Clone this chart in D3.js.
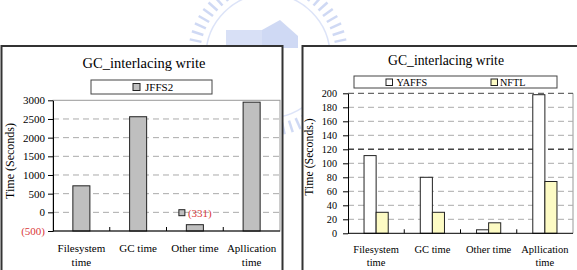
<!DOCTYPE html>
<html>
<head>
<meta charset="utf-8">
<script src="https://cdn.jsdelivr.net/npm/d3@7"></script>
<style>
  body { margin: 0; background: #fff; }
</style>
</head>
<body>
<svg id="container" width="577" height="270"></svg>
<script>
// categories shared by both charts
const categories = ["Filesystem time", "GC time", "Other time", "Apllication time"];

// left chart: JFFS2
const jffs2Values = [710, 2560, -331, 2950];
const leftTicks = [-500, 0, 500, 1000, 1500, 2000, 2500, 3000];

// right chart: YAFFS vs NFTL
const yaffsValues = [111, 80, 5, 198];
const nftlValues = [30, 30, 15, 74];
const rightTicks = [0, 20, 40, 60, 80, 100, 120, 140, 160, 180, 200];

const FONT = "'Liberation Serif', 'Times New Roman', 'DejaVu Serif', serif";
const svg = d3.select("#container");

// faint watermark behind the charts
const wm = svg.append("g").attr("opacity", 0.4);
const ringTicks = d3.range(0, 360, 6);
wm.selectAll("line.wm")
  .data(ringTicks)
  .enter()
  .append("line")
  .attr("x1", (a) => 268 + 68 * Math.cos((a * Math.PI) / 180))
  .attr("y1", (a) => 56 + 68 * Math.sin((a * Math.PI) / 180))
  .attr("x2", (a) => 268 + 80 * Math.cos((a * Math.PI) / 180))
  .attr("y2", (a) => 56 + 80 * Math.sin((a * Math.PI) / 180))
  .attr("stroke", "#8aa2e4")
  .attr("stroke-width", 2.5);
wm.append("circle").attr("cx", 268).attr("cy", 56).attr("r", 62)
  .attr("fill", "none").attr("stroke", "#a9bbee").attr("stroke-width", 1.5);
wm.append("rect").attr("x", 226).attr("y", 30).attr("width", 56).attr("height", 18).attr("fill", "#9fb3ea");
wm.append("path").attr("d", "M262,30 L280,20 L298,36 L298,48 L262,48 Z").attr("fill", "#8aa2e4");

function lines(text) {
  const w = text.split(" ");
  if (w.length > 1 && w[0] !== "GC" && w[0] !== "Other") return [w[0], w.slice(1).join(" ")];
  return [text];
}

// ---------------- left chart ----------------
{
  const g = svg.append("g");
  g.append("rect").attr("x", 1.5).attr("y", 46).attr("width", 281).attr("height", 240)
    .attr("fill", "#fff").attr("stroke", "#333").attr("stroke-width", 2);

  const L = 53, R = 280, T = 100.3, B = 231;
  const y = d3.scaleLinear().domain([-500, 3000]).range([B, T]);
  const x = d3.scaleBand().domain(categories).range([L, R]).paddingInner(0.7).paddingOuter(0.35);
  const xb = d3.scaleLinear().domain([0, 4]).range([L, R]);

  g.append("text").attr("x", 144).attr("y", 68).attr("text-anchor", "middle")
    .attr("font-size", 14.5).text("GC_interlacing write");

  // legend
  g.append("rect").attr("x", 91).attr("y", 80).attr("width", 121).attr("height", 14)
    .attr("fill", "#fff").attr("stroke", "#444");
  g.append("rect").attr("x", 133).attr("y", 83.5).attr("width", 7).attr("height", 7)
    .attr("fill", "#bfbfbf").attr("stroke", "#222");
  g.append("text").attr("x", 145).attr("y", 91).attr("font-size", 11).text("JFFS2");

  // plot frame + grid
  g.append("rect").attr("x", L).attr("y", T).attr("width", R - L).attr("height", B - T)
    .attr("fill", "none").attr("stroke", "#999");
  g.selectAll("line.grid").data(leftTicks.slice(1, -1)).enter().append("line")
    .attr("x1", L).attr("x2", R).attr("y1", (d) => y(d)).attr("y2", (d) => y(d))
    .attr("stroke", "#aaa").attr("stroke-dasharray", "6,4");

  g.selectAll("rect.bar").data(jffs2Values).enter().append("rect")
    .attr("x", (d, i) => x(categories[i]))
    .attr("width", x.bandwidth())
    .attr("y", (d) => y(d))
    .attr("height", (d) => y(-500) - y(d))
    .attr("fill", "#bfbfbf").attr("stroke", "#222").attr("stroke-width", 1);

  // negative value label
  jffs2Values.forEach((v, i) => {
    if (v < 0) {
      const cx = x(categories[i]) + x.bandwidth() / 2;
      g.append("rect").attr("x", cx - 16).attr("y", y(v) - 15).attr("width", 6).attr("height", 6)
        .attr("fill", "#bfbfbf").attr("stroke", "#222");
      g.append("text").attr("x", cx - 7).attr("y", y(v) - 8).attr("font-size", 11)
        .attr("fill", "#d9383a").text("(" + Math.abs(v) + ")");
    }
  });

  const yAxis = g.append("g").attr("transform", `translate(${L},0)`)
    .call(d3.axisLeft(y).tickValues(leftTicks).tickSize(5).tickSizeOuter(0).tickPadding(3)
      .tickFormat((d) => (d < 0 ? "(" + Math.abs(d) + ")" : d)));
  yAxis.attr("font-size", 11);
  yAxis.select(".domain").attr("stroke", "#000");
  yAxis.selectAll("text").attr("fill", (d) => (d < 0 ? "#d9383a" : "#000"));

  g.append("line").attr("x1", L).attr("x2", R).attr("y1", B).attr("y2", B).attr("stroke", "#000");
  g.selectAll("line.xt").data([1, 2, 3]).enter().append("line")
    .attr("x1", (d) => xb(d)).attr("x2", (d) => xb(d)).attr("y1", B).attr("y2", B - 4)
    .attr("stroke", "#000");

  categories.forEach((c) => {
    const cx = x(c) + x.bandwidth() / 2;
    const t = g.append("text").attr("text-anchor", "middle").attr("font-size", 11).attr("y", 252);
    lines(c).forEach((s, k) => t.append("tspan").attr("x", cx).attr("dy", k ? 14 : 0).text(s));
  });

  g.append("text").attr("transform", "translate(14,161) rotate(-90)").attr("text-anchor", "middle")
    .attr("font-size", 12).text("Time (Seconds)");
}

// ---------------- right chart ----------------
{
  const g = svg.append("g");
  g.append("rect").attr("x", 302.5).attr("y", 46).attr("width", 290).attr("height", 240)
    .attr("fill", "#fff").attr("stroke", "#333").attr("stroke-width", 2);

  const L = 348, R = 573, T = 93.3, B = 233.3;
  const y = d3.scaleLinear().domain([0, 200]).range([B, T]);
  const x = d3.scaleBand().domain(categories).range([L, R]).paddingInner(0.57).paddingOuter(0.285);
  const xs = d3.scaleBand().domain(["YAFFS", "NFTL"]).range([0, x.bandwidth()]);
  const xb = d3.scaleLinear().domain([0, 4]).range([L, R]);

  g.append("text").attr("x", 446).attr("y", 64.5).attr("text-anchor", "middle")
    .attr("font-size", 13.7).text("GC_interlacing write");

  g.append("rect").attr("x", 354).attr("y", 76).attr("width", 203).attr("height", 12)
    .attr("fill", "#fff").attr("stroke", "#444");
  g.append("rect").attr("x", 386).attr("y", 79).attr("width", 6.5).attr("height", 6.5)
    .attr("fill", "#fff").attr("stroke", "#222");
  g.append("text").attr("x", 396.5).attr("y", 86).attr("font-size", 10.2).text("YAFFS");
  g.append("rect").attr("x", 491).attr("y", 79).attr("width", 6.5).attr("height", 6.5)
    .attr("fill", "#fdfbc4").attr("stroke", "#222");
  g.append("text").attr("x", 500).attr("y", 86).attr("font-size", 10.2).text("NFTL");

  g.append("line").attr("x1", R).attr("x2", R).attr("y1", T).attr("y2", B).attr("stroke", "#999");
  g.selectAll("line.grid").data(rightTicks.slice(1)).enter().append("line")
    .attr("x1", L).attr("x2", R).attr("y1", (d) => y(d)).attr("y2", (d) => y(d))
    .attr("stroke", (d) => (d === 120 || d === 200 ? "#444" : "#aaa"))
    .attr("stroke-width", (d) => (d === 120 ? 1.5 : 1))
    .attr("stroke-dasharray", "6,4");

  g.selectAll("rect.ya").data(yaffsValues).enter().append("rect")
    .attr("x", (d, i) => x(categories[i]) + xs("YAFFS"))
    .attr("width", xs.bandwidth()).attr("y", (d) => y(d)).attr("height", (d) => B - y(d))
    .attr("fill", "#fff").attr("stroke", "#222");
  g.selectAll("rect.nf").data(nftlValues).enter().append("rect")
    .attr("x", (d, i) => x(categories[i]) + xs("NFTL"))
    .attr("width", xs.bandwidth()).attr("y", (d) => y(d)).attr("height", (d) => B - y(d))
    .attr("fill", "#fdfbc4").attr("stroke", "#222");

  const yAxis = g.append("g").attr("transform", `translate(${L},0)`)
    .call(d3.axisLeft(y).tickValues(rightTicks).tickSize(5).tickSizeOuter(0).tickPadding(6));
  yAxis.attr("font-size", 10.2);
  yAxis.select(".domain").attr("stroke", "#000");

  g.append("line").attr("x1", L).attr("x2", R).attr("y1", B).attr("y2", B).attr("stroke", "#000");
  g.selectAll("line.xt").data([1, 2, 3]).enter().append("line")
    .attr("x1", (d) => xb(d)).attr("x2", (d) => xb(d)).attr("y1", B).attr("y2", B - 4)
    .attr("stroke", "#000");

  categories.forEach((c) => {
    const cx = x(c) + x.bandwidth() / 2;
    const t = g.append("text").attr("text-anchor", "middle").attr("font-size", 10.5).attr("y", 253);
    lines(c).forEach((s, k) => t.append("tspan").attr("x", cx).attr("dy", k ? 13 : 0).text(s));
  });

  g.append("text").attr("transform", "translate(313,157) rotate(-90)").attr("text-anchor", "middle")
    .attr("font-size", 11.8).text("Time (Seconds.)");
}

// one serif face for every label, set inline so the axis defaults do not win
svg.selectAll("text, g").style("font-family", FONT);
</script>
</body>
</html>
